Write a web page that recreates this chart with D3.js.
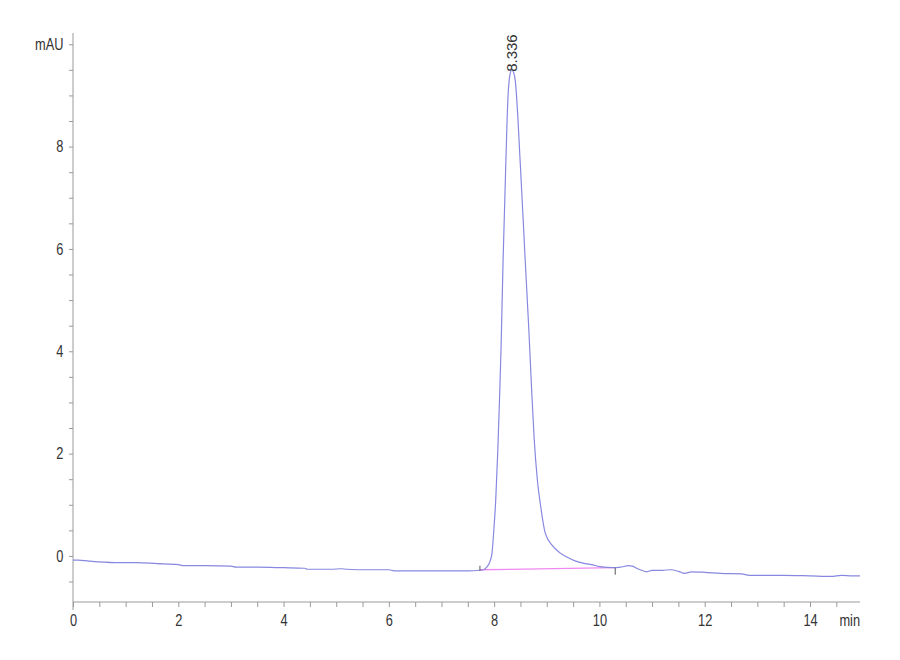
<!DOCTYPE html>
<html>
<head>
<meta charset="utf-8">
<script src="https://cdn.jsdelivr.net/npm/d3@7"></script>
<style>
  body { margin: 0; background: #fff; }
  text { font-family: "Liberation Sans", Arial, sans-serif; fill: #333; }
</style>
</head>
<body>
<div id="chart"></div>
<script>
'use strict'

// retention time (min) and signal (mAU)
const time = [0, 0.1, 0.3, 0.8, 1.2, 1.6, 2.0, 2.1, 2.5, 3.0, 3.1, 3.5, 4.0, 4.4, 4.45, 4.9, 5.1, 5.2, 5.6, 6.0, 6.1, 6.6, 7.0, 7.5,
  7.73, 7.80, 7.86, 7.93, 7.96, 7.99, 8.03, 8.07, 8.10, 8.13, 8.17, 8.22, 8.26, 8.30, 8.336, 8.37, 8.40, 8.50, 8.59, 8.66, 8.71,
  8.76, 8.82, 8.88, 8.97, 9.10, 9.25, 9.38, 9.55, 9.69, 9.85, 10.01, 10.26, 10.40, 10.55, 10.62, 10.75, 10.90, 11.0, 11.2, 11.35,
  11.5, 11.62, 11.75, 12.0, 12.3, 12.7, 12.85, 13.5, 14.0, 14.4, 14.6, 14.8, 14.95];
const signal = [-0.08, -0.08, -0.10, -0.13, -0.13, -0.15, -0.17, -0.19, -0.19, -0.20, -0.22, -0.22, -0.23, -0.24, -0.26, -0.26, -0.25, -0.26, -0.27, -0.27, -0.29, -0.29, -0.29, -0.29,
  -0.28, -0.27, -0.22, -0.08, 0.06, 0.45, 1.09, 2.07, 3.00, 4.00, 5.78, 7.60, 8.90, 9.40, 9.50, 9.45, 9.30, 7.60, 5.78, 4.40, 3.30,
  2.30, 1.50, 1.00, 0.45, 0.21, 0.06, -0.02, -0.10, -0.14, -0.17, -0.21, -0.23, -0.22, -0.19, -0.20, -0.26, -0.31, -0.28, -0.28, -0.27,
  -0.30, -0.34, -0.31, -0.32, -0.34, -0.35, -0.38, -0.38, -0.39, -0.40, -0.38, -0.39, -0.39];

// integration baseline of the peak
const baseTime = [7.73, 10.30];
const baseSignal = [-0.27, -0.23];

const peakTime = 8.336;
const peakHeight = 9.5;

const xTicks = d3.range(0, 14.51, 0.5);
const yTicks = d3.range(-0.5, 10.01, 0.5);
const xLabels = [0, 2, 4, 6, 8, 10, 12, 14];
const yLabels = [0, 2, 4, 6, 8];

const width = 900, height = 660;
const svg = d3.select('#chart').append('svg')
    .attr('width', width)
    .attr('height', height);

const x = d3.scaleLinear().domain([0, 14.95]).range([73, 860]);
const y = d3.scaleLinear().domain([-0.9, 10.22]).range([602, 33]);

const axisColor = '#9a9a9a';
const narrow = 0.8; // condensed look of the instrument font

// axes
const xAxis = svg.append('g')
    .attr('transform', `translate(0, ${y(-0.9)})`)
    .call(d3.axisBottom(x)
        .tickValues(xTicks)
        .tickSize(5)
        .tickSizeOuter(0)
        .tickPadding(8)
        .tickFormat(d => xLabels.includes(d) ? d : ''));
xAxis.select('.domain').remove();
xAxis.selectAll('line').attr('stroke', axisColor);
xAxis.selectAll('text')
    .style('font-size', '16px')
    .attr('fill', '#333')
    .attr('transform', `scale(${narrow}, 1)`);

const yAxis = svg.append('g')
    .attr('transform', `translate(${x(0)}, 0)`)
    .call(d3.axisLeft(y)
        .tickValues(yTicks)
        .tickSize(4)
        .tickSizeOuter(0)
        .tickPadding(8)
        .tickFormat(d => yLabels.includes(d) ? d : (d === 10 ? 'mAU' : '')));
yAxis.select('.domain').remove();
yAxis.selectAll('line').attr('stroke', axisColor);
yAxis.selectAll('text')
    .style('font-size', '16px')
    .attr('fill', '#333')
    .attr('transform', `scale(${narrow}, 1)`);

svg.append('line')
    .attr('x1', x(0)).attr('x2', x(0))
    .attr('y1', y(10.22)).attr('y2', y(-0.9) + 8)
    .attr('stroke', axisColor);
svg.append('line')
    .attr('x1', x(0)).attr('x2', x(14.95))
    .attr('y1', y(-0.9)).attr('y2', y(-0.9))
    .attr('stroke', axisColor);

svg.append('text')
    .attr('transform', `translate(${x(14.95)}, ${y(-0.9) + 13}) scale(${narrow}, 1)`)
    .attr('dy', '0.71em')
    .attr('text-anchor', 'end')
    .style('font-size', '16px')
    .text('min');

// integration baseline
const base = baseTime.map((t, i) => [t, baseSignal[i]]);
svg.append('path')
    .datum(base)
    .attr('fill', 'none')
    .attr('stroke', '#f08af0')
    .attr('stroke-width', 1.3)
    .attr('d', d3.line().x(d => x(d[0])).y(d => y(d[1])));

// chromatogram trace
const trace = time.map((t, i) => [t, signal[i]]);
svg.append('path')
    .datum(trace)
    .attr('fill', 'none')
    .attr('stroke', '#8888e0')
    .attr('stroke-width', 1.2)
    .attr('d', d3.line().curve(d3.curveMonotoneX).x(d => x(d[0])).y(d => y(d[1])));

// peak start / end markers
svg.selectAll('.marker')
    .data(base)
    .enter()
    .append('line')
    .attr('class', 'marker')
    .attr('x1', d => x(d[0])).attr('x2', d => x(d[0]))
    .attr('y1', (d, i) => y(d[1]) - (i === 0 ? 4 : 0))
    .attr('y2', (d, i) => y(d[1]) + (i === 0 ? 1 : 7))
    .attr('stroke', '#555');

// retention time label
svg.append('text')
    .attr('transform', `translate(${x(peakTime)}, ${y(peakHeight) + 2}) rotate(-90)`)
    .attr('dy', '0.35em')
    .style('font-size', '15px')
    .attr('fill', '#333')
    .text(peakTime.toFixed(3));
</script>
</body>
</html>
